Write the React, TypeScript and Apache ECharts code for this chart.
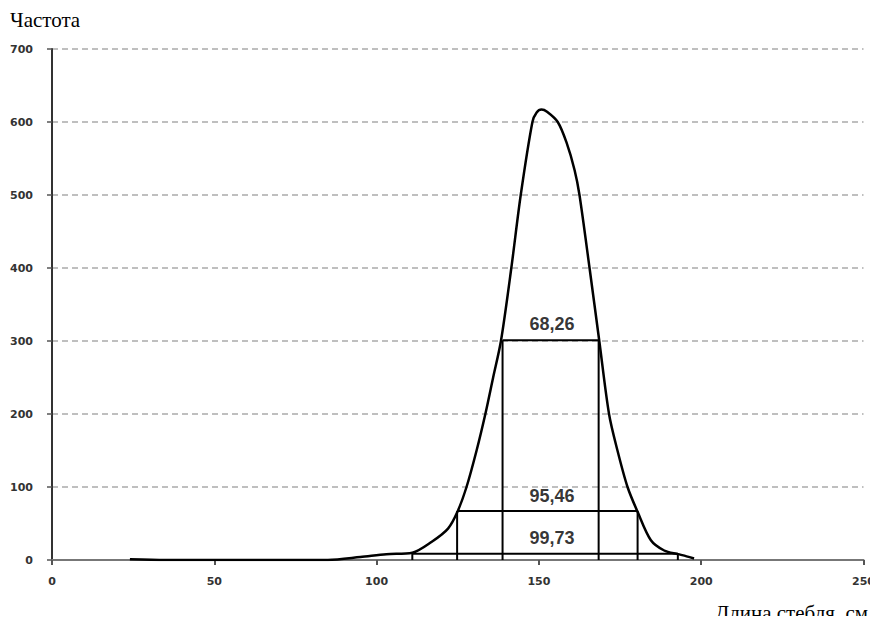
import React, { useEffect, useRef } from "react";
import * as echarts from "echarts";

// Bell curve (frequency vs stem length)
const curveX = [24, 35, 50, 70, 85, 95, 103, 111, 117, 122, 124.9, 127.7, 130.8, 133.5, 135.9, 138.3, 141.5, 144.4, 148, 149.3, 150.8, 152.5, 155.8, 158.5, 161, 162.5, 165.6, 168.6, 171.6, 174.2, 177.3, 180.4, 184.5, 188.6, 192.9, 195.5, 197.8];
const curveY = [1, 0, 0, 0, 0, 4, 8, 10, 25, 43, 66, 100, 150, 200, 250, 300, 400, 500, 600, 613, 617, 614, 600, 572, 534, 500, 400, 300, 200, 150, 100, 66, 27, 13, 8, 5, 2];

// Probability ranges
const rangeLabels = ["68,26", "95,46", "99,73"];
const rangeLow = [138.8, 124.8, 111];
const rangeHigh = [168.4, 180.4, 192.8];
const rangeLevel = [301, 67, 8.5];
const labelX = [154, 154, 154];
const labelY = [323, 88, 30];

const xTicks = [0, 50, 100, 150, 200, 250];
const yMax = 700;
const yStep = 100;

const xName = "Длина стебля, см";
const yName = "Частота";

export default function App() {
  const ref = useRef<HTMLDivElement>(null);
  useEffect(() => {
    if (!ref.current) return;
    const chart = echarts.init(ref.current, undefined, { renderer: "svg" });

    const segSeries: any[] = [];
    rangeLabels.forEach((_, i) => {
      const segs = [
        [[rangeLow[i], rangeLevel[i]], [rangeHigh[i], rangeLevel[i]]],
        [[rangeLow[i], 0], [rangeLow[i], rangeLevel[i]]],
        [[rangeHigh[i], 0], [rangeHigh[i], rangeLevel[i]]],
      ];
      segs.forEach((d) => {
        segSeries.push({
          type: "line",
          data: d,
          showSymbol: false,
          symbol: "none",
          lineStyle: { color: "#000", width: 2 },
          z: 3,
        });
      });
    });

    const tickLabel = { color: "#333", fontFamily: "DejaVu Sans", fontWeight: "bold", fontSize: 11 };

    chart.setOption({
      animation: false,
      grid: { left: 52, right: 12, top: 49, bottom: 64 },
      xAxis: {
        type: "value",
        min: xTicks[0],
        max: xTicks[xTicks.length - 1],
        interval: 50,
        axisLine: { show: true, lineStyle: { color: "#777", width: 2 } },
        axisTick: { show: true, length: 5, lineStyle: { color: "#555", width: 2 } },
        axisLabel: { ...tickLabel, margin: 16 },
        splitLine: { show: false },
      },
      yAxis: {
        type: "value",
        min: 0,
        max: yMax,
        interval: yStep,
        axisLine: { show: true, lineStyle: { color: "#333", width: 2 } },
        axisTick: { show: true, length: 5, lineStyle: { color: "#555", width: 1.5 } },
        axisLabel: { ...tickLabel, margin: 19 },
        splitLine: { show: true, lineStyle: { color: "#aaa", type: [6, 4], width: 1.5 } },
      },
      graphic: [
        {
          type: "text",
          x: 10,
          y: 19.5,
          style: {
            text: yName,
            fontFamily: "Liberation Serif",
            fontSize: 21,
            fill: "#000",
            align: "left",
            verticalAlign: "middle",
          },
        },
        {
          type: "text",
          x: 868,
          y: 612.5,
          style: {
            text: xName,
            fontFamily: "Liberation Serif",
            fontSize: 21,
            fill: "#000",
            align: "right",
            verticalAlign: "middle",
          },
        },
      ],
      series: [
        {
          type: "line",
          data: curveX.map((x, i) => [x, curveY[i]]),
          smooth: 0.3,
          showSymbol: false,
          symbol: "none",
          lineStyle: { color: "#000", width: 2.5 },
          z: 4,
        },
        ...segSeries,
        {
          type: "scatter",
          symbolSize: 0,
          data: rangeLabels.map((n, i) => ({ name: n, value: [labelX[i], labelY[i]] })),
          label: {
            show: true,
            position: "inside",
            formatter: (p: any) => p.name,
            color: "#000",
            fontFamily: "Liberation Sans",
            fontWeight: "bold",
            fontSize: 18,
          },
          z: 5,
        },
      ],
    });
    return () => chart.dispose();
  }, []);
  return <div ref={ref} style={{ width: 878, height: 624, margin: -8 }} />;
}
